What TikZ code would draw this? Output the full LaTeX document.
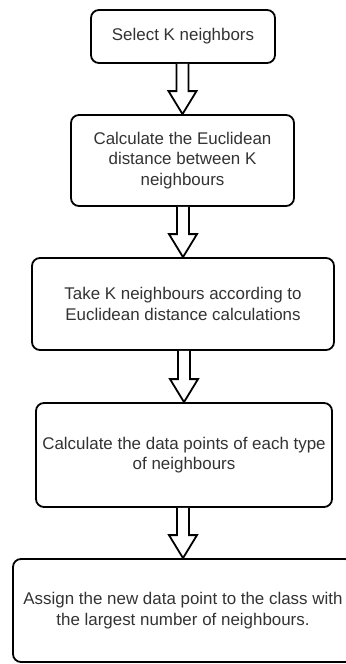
\documentclass[tikz,border=0pt]{standalone}
\usepackage{fontspec}
\setmainfont{Liberation Sans}
\usetikzlibrary{calc}
\definecolor{txt}{HTML}{333333}
\tikzset{
  stepbox/.style={draw=black, line width=1.35pt, rounded corners=6pt, fill=white,
    align=center, inner sep=0pt, text=txt, font=\fontsize{12.7}{15.5}\selectfont},
  flexa/.style={draw=black, line width=1.35pt, fill=white, line join=miter}
}
\newcommand\flexarrow[2]{%
  \draw[flexa] ($(#1.south -| #2.north)+(-6,0)$) -- ($(#2.north)+(-6,-23)$) -- ($(#2.north)+(-14,-23)$) -- (#2.north) -- ($(#2.north)+(14,-23)$) -- ($(#2.north)+(6,-23)$) -- ($(#1.south -| #2.north)+(6,0)$);}
\begin{document}
\begin{tikzpicture}[x=0.75pt,y=-0.75pt]
\useasboundingbox (0,0) rectangle (346,664);
\begin{scope}
\clip (0,0) rectangle (346,664);
\node[stepbox, minimum width=138pt, minimum height=39.75pt] (b1) at (183,36.5) {Select K neighbors};
\node[stepbox, minimum width=167.25pt, minimum height=68.25pt] (b2) at (182.5,160.5) {Calculate the Euclidean\\distance between K\\neighbours};
\node[stepbox, minimum width=226.5pt, minimum height=69pt] (b3) at (183,304) {Take K neighbours according to\\Euclidean distance calculations};
\node[stepbox, minimum width=222pt, minimum height=78pt] (b4) at (184,455) {Calculate the data points of each type\\of neighbours};
\node[stepbox, minimum width=255pt, minimum height=77.25pt] (b5) at (183,610.5) {Assign the new data point to the class with\\the largest number of neighbours.};
\flexarrow{b1}{b2}
\flexarrow{b2}{b3}
\flexarrow{b3}{b4}
\flexarrow{b4}{b5}
\end{scope}
\end{tikzpicture}
\end{document}
